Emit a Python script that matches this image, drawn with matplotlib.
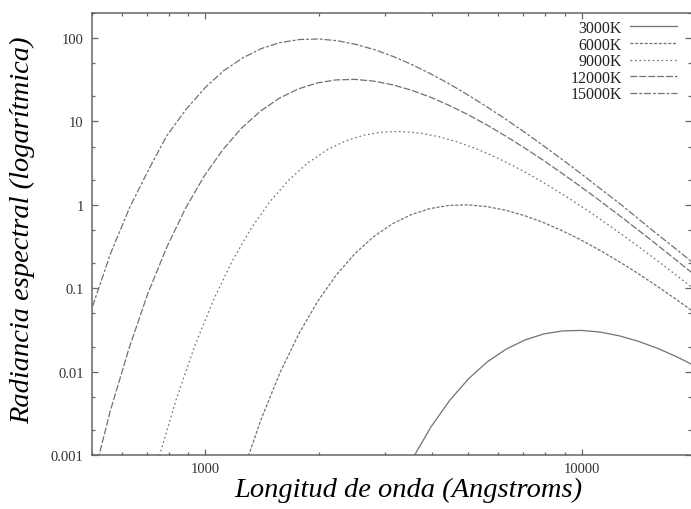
import matplotlib
matplotlib.use("Agg")
import matplotlib.pyplot as plt

# curvas de Planck (longitud de onda en Angstroms, radiancia relativa)
lam_3000 = [3540, 3972, 4457, 5000, 5610, 6295, 7063, 7925, 8892, 9976, 11194,
            12560, 14092, 15811, 17741, 19905, 22334]
rad_3000 = [0.000881, 0.00216, 0.00452, 0.00819, 0.0131, 0.0186, 0.0240, 0.0283,
            0.0308, 0.0312, 0.0298, 0.0269, 0.0232, 0.0192, 0.0153, 0.0118, 0.00892]

lam_6000 = [1253, 1406, 1577, 1770, 1986, 2228, 2500, 2805, 3148, 3532, 3963, 4446,
            4988, 5597, 6280, 7046, 7906, 8870, 9953, 11168, 12530, 14058, 15774,
            17698, 19858, 22281]
rad_6000 = [0.000593, 0.00267, 0.00960, 0.0282, 0.0691, 0.1445, 0.262, 0.418, 0.596,
            0.768, 0.905, 0.985, 1.000, 0.953, 0.861, 0.742, 0.614, 0.490, 0.379,
            0.285, 0.210, 0.1515, 0.1074, 0.0750, 0.0517, 0.0353]

lam_9000 = [744, 835, 937, 1052, 1180, 1324, 1486, 1667, 1870, 2099, 2355, 2642,
            2964, 3325, 3731, 4186, 4697, 5270, 5913, 6635, 7445, 8353, 9372, 10517,
            11798, 13238, 14855, 16667, 18700, 20982]
rad_9000 = [0.000777, 0.00450, 0.0203, 0.0729, 0.214, 0.525, 1.098, 1.990, 3.177,
            4.527, 5.834, 6.871, 7.482, 7.591, 7.238, 6.542, 5.639, 4.663, 3.720,
            2.877, 2.168, 1.594, 1.150, 0.816, 0.570, 0.393, 0.268, 0.181, 0.121,
            0.0807]

lam_12000 = [498, 558, 627, 703, 789, 885, 993, 1114, 1250, 1403, 1574, 1766, 1981,
             2223, 2494, 2799, 3140, 3523, 3953, 4435, 4976, 5584, 6265, 7029, 7887,
             8849, 9929, 11141, 12500, 14025, 15736, 17656, 19811, 22229]
rad_12000 = [0.000424, 0.00327, 0.0190, 0.0855, 0.307, 0.902, 2.212, 4.624, 8.385,
             13.38, 19.07, 24.58, 28.94, 31.52, 31.98, 30.50, 27.56, 23.76, 19.64,
             15.67, 12.13, 9.13, 6.72, 4.85, 3.44, 2.40, 1.656, 1.130, 0.763, 0.511,
             0.340, 0.2247, 0.1477, 0.0966]

lam_15000 = [447, 500, 560, 630, 710, 790, 890, 1000, 1120, 1260, 1410, 1580, 1780,
             2000, 2240, 2510, 2820, 3160, 3550, 3980, 4470, 5010, 5620, 6310, 7080,
             7940, 8910, 10000, 11200, 12600, 14100, 15800, 17800, 20000]
rad_15000 = [0.0100, 0.0579, 0.261, 0.937, 2.75, 6.75, 14.1, 25.6, 40.8, 58.2, 75.0,
             88.4, 96.2, 97.6, 93.1, 84.1, 72.5, 60.0, 47.8, 37.0, 27.9, 20.5, 14.8,
             10.5, 7.33, 5.05, 3.45, 2.33, 1.56, 1.04, 0.686, 0.451, 0.295, 0.192]

etiquetas = ["3000K", "6000K", "9000K", "12000K", "15000K"]
yticks = [0.001, 0.01, 0.1, 1, 10, 100]
ytick_labels = ["0.001", "0.01", "0.1", "1", "10", "100"]
xticks = [1000, 10000]
xtick_labels = ["1000", "10000"]

plt.rcParams['font.family'] = ['Liberation Serif', 'DejaVu Serif']
plt.rcParams['lines.scale_dashes'] = False

fig = plt.figure(figsize=(6.91, 5.10), dpi=100)
ax = fig.add_axes([92/691, 54/510, 599/691, 442/510])

gris = '#727272'
estilos = ['-', (0, (2.2, 1.2)), (0, (1.2, 2.0)), (0, (5.0, 1.4)), (0, (5.0, 1.4, 2.0, 1.4))]
series = [(lam_3000, rad_3000), (lam_6000, rad_6000), (lam_9000, rad_9000),
          (lam_12000, rad_12000), (lam_15000, rad_15000)]
for (lam, rad), lab, ls in zip(series, etiquetas, estilos):
    ax.plot(lam, rad, color=gris, lw=0.9, linestyle=ls, label=lab)

ax.set_xscale('log')
ax.set_yscale('log')
ax.set_xlim(500, 19500)
ax.set_ylim(0.001, 200)

ax.set_yticks(yticks)
ax.set_yticklabels(ytick_labels)
ax.set_xticks(xticks)
ax.set_xticklabels(xtick_labels)
ax.yaxis.set_minor_locator(matplotlib.ticker.LogLocator(base=10, subs=(2.0, 5.0)))
ax.yaxis.set_minor_formatter(matplotlib.ticker.NullFormatter())
ax.xaxis.set_minor_formatter(matplotlib.ticker.NullFormatter())

ax.tick_params(which='both', direction='in', top=True, right=True, color='#666666',
               width=0.9, labelsize=10.5, labelcolor='#333333')
ax.tick_params(which='major', length=4.3)
ax.tick_params(which='minor', length=2.2)
ax.tick_params(axis='y', pad=6)
ax.tick_params(axis='x', pad=5)

for s in ['left', 'bottom', 'top']:
    ax.spines[s].set_color('#666666')
    ax.spines[s].set_linewidth(1.1)
ax.spines['right'].set_visible(False)

leg = ax.legend(loc='upper right', bbox_to_anchor=(0.9766, 0.984), frameon=False,
                markerfirst=False, fontsize=11.5, handlelength=2.95, handletextpad=0.5,
                labelspacing=0.035, borderpad=0, borderaxespad=0)
for t in leg.get_texts():
    t.set_color('#222222')

fig.text(408/691, 1 - 490/510, 'Longitud de onda (Angstroms)', ha='center', va='center',
         fontsize=20.5, style='italic')
fig.text(23/691, 1 - 230/510, 'Radiancia espectral (logarítmica)', ha='center', va='center',
         fontsize=20.5, style='italic', rotation=90)

fig.savefig('out.png', dpi=100)
